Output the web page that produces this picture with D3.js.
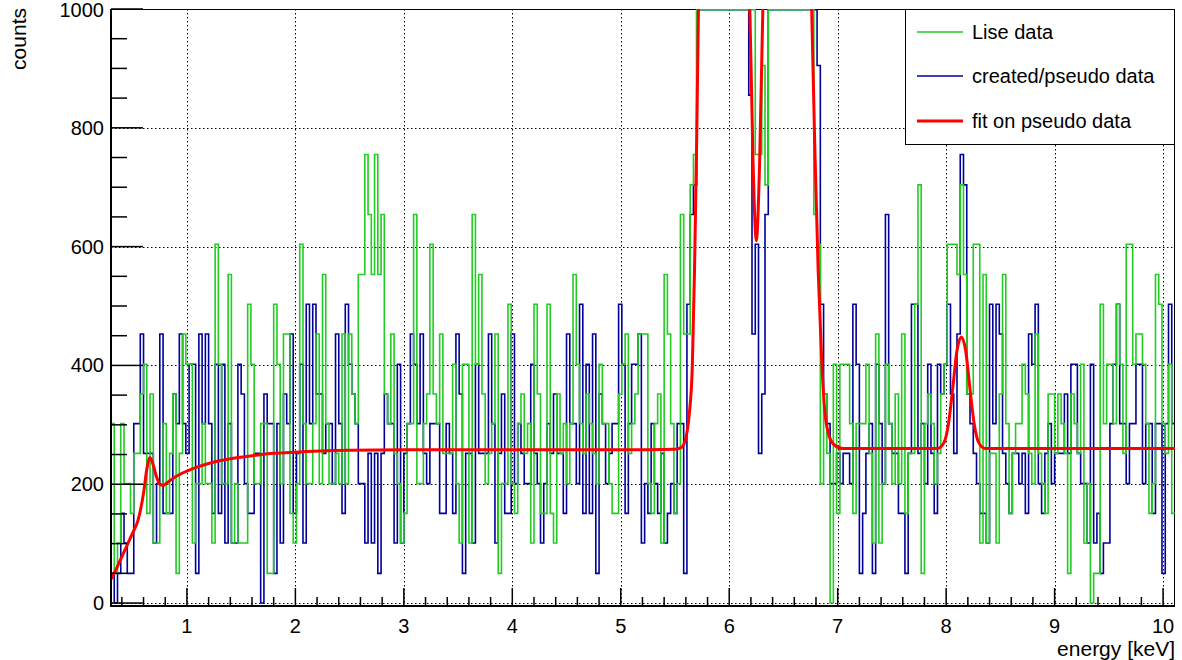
<!DOCTYPE html>
<html>
<head>
<meta charset="utf-8">
<script src="https://cdn.jsdelivr.net/npm/d3@7"></script>
<style>
  body { margin: 0; background: #fff; }
  svg { display: block; }
  text { font-family: "Liberation Sans", Arial, Helvetica, sans-serif; fill: #000; }
</style>
</head>
<body>
<svg id="chart" width="1182" height="660"></svg>
<script>
// Histogram binning (keV)
const binStart = 0.3;
const binWidth = 0.03;

// Lise spectrum, counts per bin
const liseCounts = [
  302,50,101,302,201,201,151,252,252,352,
  402,151,352,101,101,201,302,151,252,352,
  50,252,453,402,402,101,201,201,302,201,
  201,101,604,402,201,201,553,101,201,101,
  101,101,503,402,201,201,302,302,50,50,
  503,402,201,453,453,151,101,201,604,302,
  201,201,302,453,201,553,302,201,201,252,
  201,453,201,453,352,302,553,553,755,654,
  553,755,553,654,352,302,453,252,201,101,
  151,302,302,654,201,201,302,352,604,352,
  302,453,252,252,252,402,201,101,402,402,
  101,654,402,553,352,201,252,302,453,50,
  201,201,503,201,151,302,352,252,302,101,
  503,352,151,151,503,151,101,352,252,302,
  201,302,553,402,302,252,352,302,252,201,
  402,302,302,201,151,151,352,402,453,252,
  302,352,453,453,453,201,151,302,352,101,
  553,453,302,151,201,654,453,453,704,755,
  1250,1700,2300,2900,3500,3900,4200,4100,3800,3300,2800,2300,1900,1600,1350,1180,1080,
  1030,
  755,755,905,704,
  1200,1500,1900,2300,2600,2800,2700,2500,2200,1900,1600,1350,1150,1060,
  654,604,201,352,
  252,0,402,151,402,402,402,302,151,302,
  302,
  302,402,252,101,453,101,201,402,302,
  201,352,201,453,151,252,252,503,704,50,
  302,352,302,201,252,352,402,604,604,604,
  553,704,553,352,352,604,604,101,553,101,
  252,252,101,352,553,302,151,252,302,302,
  402,352,252,201,453,252,201,151,352,352,
  252,352,302,252,50,352,302,252,402,101,
  201,0,50,50,503,302,402,402,302,503,
  402,252,604,604,402,453,453,402,302,151,
  201,553,503,302,252,402,151
];

// Created / pseudo spectrum, counts per bin
const pseudoCounts = [
  50,0,50,151,101,50,50,302,302,453,
  252,252,252,101,201,453,151,151,151,352,
  302,453,302,252,402,402,50,453,302,453,
  302,151,402,151,402,101,302,101,101,402,
  352,201,151,151,252,252,0,352,302,302,
  50,302,101,352,302,453,151,252,402,101,
  503,302,503,352,352,252,302,302,201,453,
  302,151,503,402,352,302,201,201,101,252,
  101,252,50,252,352,302,302,101,402,101,
  252,302,453,402,302,453,252,201,302,302,
  302,151,151,302,252,151,453,352,50,252,
  252,101,402,252,252,252,453,302,101,252,
  352,151,151,453,201,302,252,201,201,402,
  252,201,101,201,302,252,352,252,252,151,
  453,302,302,201,503,151,402,151,453,50,
  352,302,201,252,302,302,503,402,151,302,
  402,402,453,101,201,151,302,201,151,252,
  101,151,201,151,302,302,50,503,654,704,
  1200,1650,2250,2850,3450,3950,4150,4050,3750,3250,2750,2250,1850,1550,1300,1120,
  855,453,604,252,352,654,
  1150,1450,1850,2250,2550,2750,2650,2450,2150,1850,1550,1300,1150,1080,1020,
  905,503,352,
  302,201,201,252,201,252,252,201,503,402,
  50,
  151,252,302,50,402,302,201,654,302,
  252,252,151,151,50,252,503,503,252,302,
  201,402,252,151,402,352,402,503,352,252,
  453,755,704,352,302,252,201,151,151,101,
  503,302,503,453,252,201,151,252,252,201,
  252,151,453,402,503,201,151,252,302,201,
  252,252,252,352,252,402,402,252,201,201,
  101,402,101,151,50,101,101,302,402,503,
  302,302,201,302,302,402,402,201,302,302,
  151,302,302,50,302,503,302
];

// Fit on the pseudo spectrum, sampled (energy in keV, counts)
const fitEnergy = [
  0.30,0.35,0.40,0.45,0.50,0.55,0.60,0.63,0.66,0.69,0.72,0.75,0.78,0.82,0.88,0.95,
  1.05,1.20,1.40,1.60,1.80,2.00,2.50,3.00,4.00,5.00,5.50,5.56,5.60,5.63,5.66,5.68,
  5.70,5.72,5.76,5.85,5.95,6.05,6.12,6.16,6.19,6.22,6.25,6.28,6.31,6.34,6.40,6.50,
  6.60,6.68,6.73,6.76,6.79,6.82,6.85,6.88,6.92,6.97,7.05,7.92,7.98,8.02,8.06,8.10,
  8.14,8.18,8.22,8.26,8.30,8.36,10.11
];
const fitCounts = [
  40,58,78,98,118,140,185,225,245,232,212,200,198,203,211,218,
  226,235,243,248,252,254,257,258,258,258,259,262,278,315,400,560,
  780,1050,1500,2600,3600,3000,2000,1400,1000,740,610,740,1000,1400,2300,3000,
  2800,1900,1300,1000,760,560,420,325,282,266,260,260,270,300,360,425,
  448,425,360,300,270,260,260
];

// Axis ticks and legend entries
const xMajorTicks = [1,2,3,4,5,6,7,8,9,10];
const xMinorTicks = [0.4,0.6,0.8,1.2,1.4,1.6,1.8,2.2,2.4,2.6,2.8,3.2,3.4,3.6,3.8,
  4.2,4.4,4.6,4.8,5.2,5.4,5.6,5.8,6.2,6.4,6.6,6.8,7.2,7.4,7.6,7.8,8.2,8.4,8.6,8.8,
  9.2,9.4,9.6,9.8];
const yMajorTicks = [0,200,400,600,800,1000];
const yMinorTicks = [50,100,150,250,300,350,450,500,550,650,700,750,850,900,950];
const legendLabels = ["Lise data", "created/pseudo data", "fit on pseudo data"];

const colors = { lise: "#22cc22", pseudo: "#000099", fit: "#ff0000" };

const svg = d3.select("#chart");
const frame = { left: 111, right: 1175, top: 9, bottom: 606 };

const x = d3.scaleLinear().domain([0.3, 10.11]).range([frame.left, frame.right]);
const y = d3.scaleLinear().domain([-5, 1000]).range([frame.bottom, frame.top]);
const yClamped = y.copy().clamp(true);

svg.append("defs").append("clipPath").attr("id", "plotClip")
  .append("rect")
  .attr("x", frame.left).attr("y", frame.top - 1)
  .attr("width", frame.right - frame.left).attr("height", frame.bottom - frame.top + 1);

// Dotted grid
const grid = svg.append("g").attr("stroke", "#000").attr("stroke-width", 1)
  .attr("stroke-dasharray", "1.5,2.5");
grid.selectAll("line.gx").data(xMajorTicks).join("line")
  .attr("x1", d => Math.round(x(d)) + 0.5).attr("x2", d => Math.round(x(d)) + 0.5)
  .attr("y1", frame.top).attr("y2", frame.bottom);
grid.selectAll("line.gy").data(yMajorTicks).join("line")
  .attr("x1", frame.left).attr("x2", frame.right)
  .attr("y1", d => Math.round(y(d)) + 0.5).attr("y2", d => Math.round(y(d)) + 0.5);

// Frame (drawn under the histograms so clipped bins show along the top edge)
svg.append("rect")
  .attr("x", frame.left).attr("y", frame.top + 0.5)
  .attr("width", frame.right - frame.left - 0.5).attr("height", frame.bottom - frame.top)
  .attr("fill", "none").attr("stroke", "#000").attr("stroke-width", 1);

// Step outline of a histogram
function histPoints(counts) {
  const pts = counts.map((c, i) => [binStart + i * binWidth, c]);
  pts.push([binStart + counts.length * binWidth, counts[counts.length - 1]]);
  return pts;
}
const stepLine = d3.line()
  .x(d => x(d[0]))
  .y(d => yClamped(d[1]) + (d[1] >= 1000 ? 0.8 : 0))
  .curve(d3.curveStepAfter);

const plot = svg.append("g").attr("clip-path", "url(#plotClip)");
plot.append("path")
  .attr("d", stepLine(histPoints(pseudoCounts)))
  .attr("fill", "none").attr("stroke", colors.pseudo).attr("stroke-width", 1.6);
plot.append("path")
  .attr("d", stepLine(histPoints(liseCounts)))
  .attr("fill", "none").attr("stroke", colors.lise).attr("stroke-width", 1.6);

const fitClip = svg.select("defs").append("clipPath").attr("id", "fitClip");
fitClip.append("rect")
  .attr("x", frame.left).attr("y", frame.top)
  .attr("width", frame.right - frame.left).attr("height", frame.bottom - frame.top);
const fitLine = d3.line()
  .x((d, i) => x(fitEnergy[i]))
  .y(d => y(d))
  .curve(d3.curveMonotoneX);
svg.append("path")
  .attr("clip-path", "url(#fitClip)")
  .attr("d", fitLine(fitCounts))
  .attr("fill", "none").attr("stroke", colors.fit).attr("stroke-width", 3)
  .attr("stroke-linejoin", "round");

// Axes
svg.append("line").attr("x1", frame.left).attr("x2", frame.left)
  .attr("y1", frame.top).attr("y2", frame.bottom + 1)
  .attr("stroke", "#000").attr("stroke-width", 2);
svg.append("line").attr("x1", frame.left - 1).attr("x2", frame.right)
  .attr("y1", frame.bottom).attr("y2", frame.bottom)
  .attr("stroke", "#000").attr("stroke-width", 2);

const ticks = svg.append("g").attr("stroke", "#000").attr("stroke-width", 1.5);
ticks.selectAll("line.xM").data(xMajorTicks).join("line")
  .attr("x1", d => x(d)).attr("x2", d => x(d))
  .attr("y1", frame.bottom).attr("y2", frame.bottom - 18);
ticks.selectAll("line.xm").data(xMinorTicks).join("line")
  .attr("x1", d => x(d)).attr("x2", d => x(d))
  .attr("y1", frame.bottom).attr("y2", frame.bottom - 9);
ticks.selectAll("line.yM").data(yMajorTicks).join("line")
  .attr("x1", frame.left).attr("x2", frame.left + 32)
  .attr("y1", d => y(d)).attr("y2", d => y(d));
ticks.selectAll("line.ym").data(yMinorTicks).join("line")
  .attr("x1", frame.left).attr("x2", frame.left + 16)
  .attr("y1", d => y(d)).attr("y2", d => y(d));

svg.append("g").selectAll("text").data(xMajorTicks).join("text")
  .attr("x", d => x(d)).attr("y", 633)
  .attr("text-anchor", "middle").attr("font-size", 20)
  .text(d => d);
svg.append("g").selectAll("text").data(yMajorTicks).join("text")
  .attr("x", 104).attr("y", d => Math.max(y(d) + 7, 17))
  .attr("text-anchor", "end").attr("font-size", 20)
  .text(d => d);

svg.append("text").attr("x", frame.right).attr("y", 656)
  .attr("text-anchor", "end").attr("font-size", 21).text("energy [keV]");
svg.append("text").attr("transform", "translate(26,8) rotate(-90)")
  .attr("text-anchor", "end").attr("font-size", 21).text("counts");

// Legend
const legend = svg.append("g");
legend.append("rect")
  .attr("x", 905.5).attr("y", 9.5).attr("width", 269).attr("height", 135)
  .attr("fill", "#fff").attr("stroke", "#000").attr("stroke-width", 1);
const legendRows = [
  { label: legendLabels[0], color: colors.lise, width: 1.6, cy: 32 },
  { label: legendLabels[1], color: colors.pseudo, width: 1.6, cy: 76 },
  { label: legendLabels[2], color: colors.fit, width: 3, cy: 121 }
];
legendRows.forEach(r => {
  legend.append("line").attr("x1", 917).attr("x2", 963)
    .attr("y1", r.cy).attr("y2", r.cy)
    .attr("stroke", r.color).attr("stroke-width", r.width);
  legend.append("text").attr("x", 972).attr("y", r.cy + 7)
    .attr("font-size", 20).text(r.label);
});
</script>
</body>
</html>
